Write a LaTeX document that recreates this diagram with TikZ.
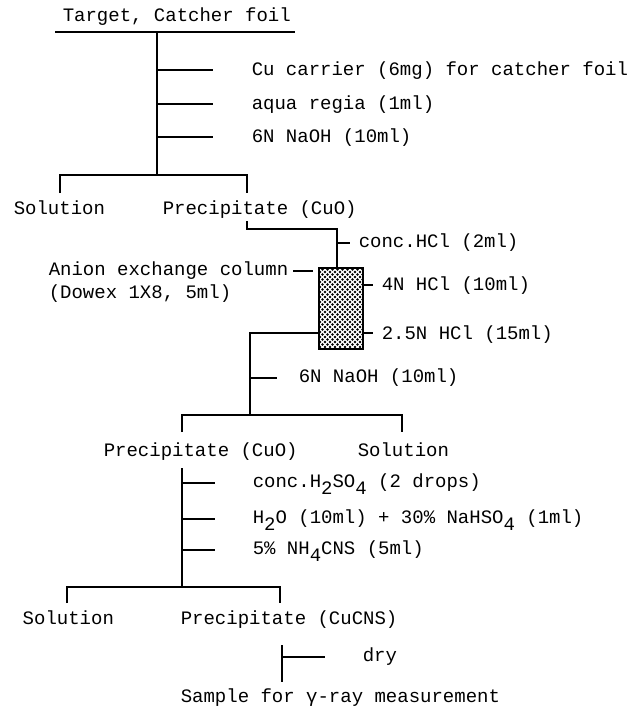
\documentclass[tikz,border=0pt]{standalone}
\usepackage{fontspec}
\setmainfont{Liberation Mono}
\usetikzlibrary{patterns}
\pgfdeclarepatternformonly{coldots}{\pgfqpoint{-1.5pt}{-1.5pt}}{\pgfqpoint{5pt}{5pt}}{\pgfqpoint{5pt}{5pt}}{%
  \pgfpathcircle{\pgfqpoint{0pt}{0pt}}{1.35pt}%
  \pgfpathcircle{\pgfqpoint{2.5pt}{2.5pt}}{1.35pt}%
  \pgfusepath{fill}}
\newcommand{\lowd}[1]{\raisebox{-0.7ex}{#1}}
\begin{document}
\begin{tikzpicture}[x=1pt,y=-1pt,line width=1.5pt,
  lbl/.style={anchor=west,inner sep=0pt,font=\fontsize{19}{22}\selectfont,text height=13pt,text depth=4pt},
  column/.style={draw,line width=1.5pt,pattern=coldots,anchor=north west,inner sep=0pt,minimum width=44pt,minimum height=81pt}]
\useasboundingbox (0,0) rectangle (633,712);

% ---- top section
\node[lbl] (title) at (62,17) {Target, Catcher foil};
\coordinate (ulL) at (55,32);
\coordinate (ulR) at (295,32);
\draw (ulL) -- (ulR);
\coordinate (v1t) at (157,32);
\coordinate (b1M) at (157,175);
\draw (v1t) -- (b1M);
\coordinate (t1a) at (157,70);  \coordinate (t1b) at (213,70);
\coordinate (t2a) at (157,104); \coordinate (t2b) at (213,104);
\coordinate (t3a) at (157,137); \coordinate (t3b) at (213,137);
\draw (t1a) -- (t1b); \draw (t2a) -- (t2b); \draw (t3a) -- (t3b);
\node[lbl] (r1) at (251,71) {Cu carrier (6mg) for catcher foil};
\node[lbl] (r2) at (251,105) {aqua regia (1ml)};
\node[lbl] (r3) at (251,138) {6N NaOH (10ml)};

\coordinate (b1L) at (60,175);  \coordinate (b1R) at (247,175);
\coordinate (b1Ld) at (60,193); \coordinate (b1Rd) at (247,193);
\draw (b1Ld) -- (b1L) -- (b1R) -- (b1Rd);
\node[lbl] (sol1) at (13,210) {Solution};
\node[lbl] (pre1) at (162,210) {Precipitate (CuO)};

% ---- column section
\node[column] (col) at (318,267) {};
\coordinate (p1a) at (247,221);
\coordinate (p1b) at (247,229);
\coordinate (p1c) at (337,229);
\draw (p1a) -- (p1b) -- (p1c) -- (p1c |- col.north);
\coordinate (h1a) at (337,243); \coordinate (h1b) at (350,243);
\draw (h1a) -- (h1b);
\node[lbl] (hcl1) at (358,243) {conc.HCl (2ml)};
\node[lbl] (anion) at (48,271) {Anion exchange column};
\coordinate (an1) at (293,271);
\coordinate (an2) at (313,271);
\draw (an1) -- (an2);
\node[lbl] (dowex) at (48,294) {(Dowex 1X8, 5ml)};
\coordinate (h2a) at (col.east |- 0,285); \coordinate (h2b) at (373,285);
\draw (h2a) -- (h2b);
\node[lbl] (hcl2) at (381,286) {4N HCl (10ml)};
\coordinate (h3a) at (col.east |- 0,333); \coordinate (h3b) at (373,333);
\draw (h3a) -- (h3b);
\node[lbl] (hcl3) at (381,335) {2.5N HCl (15ml)};
\coordinate (o1a) at (col.west |- 0,333);
\coordinate (o1b) at (250,333);
\coordinate (b2M) at (250,415);
\draw (o1a) -- (o1b) -- (b2M);
\coordinate (n2a) at (250,378); \coordinate (n2b) at (277,378);
\draw (n2a) -- (n2b);
\node[lbl] (naoh2) at (298,378) {6N NaOH (10ml)};

\coordinate (b2L) at (182,415);  \coordinate (b2R) at (402,415);
\coordinate (b2Ld) at (182,432); \coordinate (b2Rd) at (402,432);
\draw (b2Ld) -- (b2L) -- (b2R) -- (b2Rd);
\node[lbl] (pre2) at (103,452) {Precipitate (CuO)};
\node[lbl] (sol2) at (357,452) {Solution};

% ---- third section
\coordinate (v3t) at (182,468);
\coordinate (b3M) at (182,587);
\draw (v3t) -- (b3M);
\coordinate (s1a) at (182,483); \coordinate (s1b) at (215,483);
\coordinate (s2a) at (182,519); \coordinate (s2b) at (215,519);
\coordinate (s3a) at (182,550); \coordinate (s3b) at (215,550);
\draw (s1a) -- (s1b); \draw (s2a) -- (s2b); \draw (s3a) -- (s3b);
\node[lbl] (q1) at (252,483) {conc.H\lowd{2}SO\lowd{4} (2 drops)};
\node[lbl] (q2) at (252,519) {H\lowd{2}O (10ml) + 30\% NaHSO\lowd{4} (1ml)};
\node[lbl] (q3) at (252,550) {5\% NH\lowd{4}CNS (5ml)};

\coordinate (b3L) at (67,587);  \coordinate (b3R) at (280,587);
\coordinate (b3Ld) at (67,603); \coordinate (b3Rd) at (280,603);
\draw (b3Ld) -- (b3L) -- (b3R) -- (b3Rd);
\node[lbl] (sol3) at (22,620) {Solution};
\node[lbl] (pre3) at (180,620) {Precipitate (CuCNS)};

\coordinate (v4t) at (282,645);
\coordinate (v4b) at (282,682);
\draw (v4t) -- (v4b);
\coordinate (d1a) at (282,657); \coordinate (d1b) at (325,657);
\draw (d1a) -- (d1b);
\node[lbl] (dry) at (362,657) {dry};
\node[lbl] (sample) at (180,698) {Sample for γ-ray measurement};
\end{tikzpicture}
\end{document}
